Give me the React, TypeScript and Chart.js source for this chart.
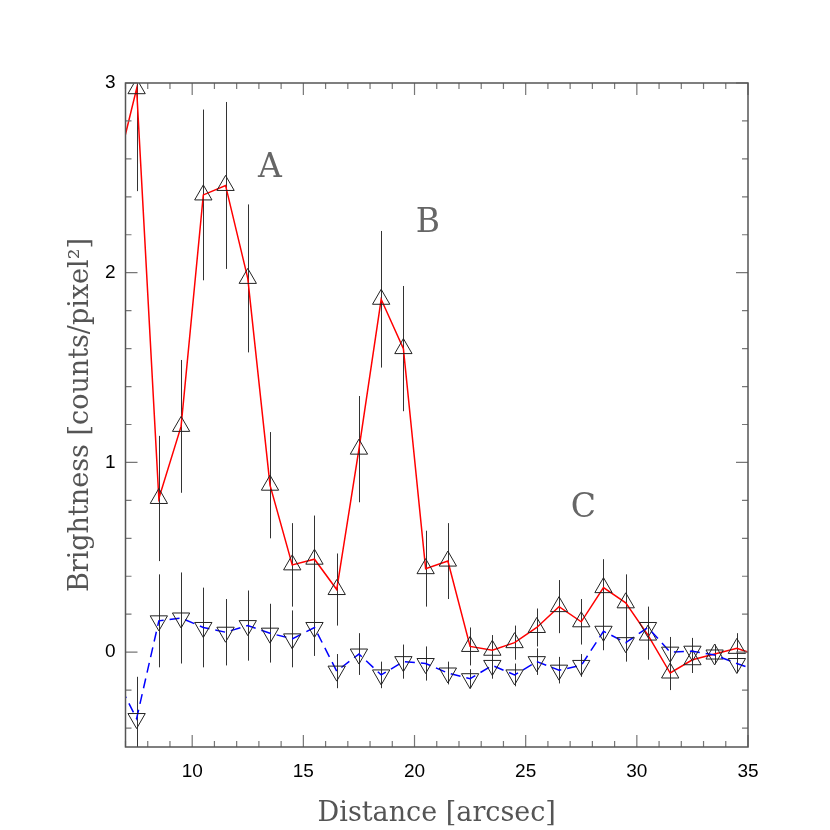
import React, { useEffect, useRef } from "react";
import { Chart, registerables } from "chart.js";

Chart.register(...registerables);

// Distance along the cut [arcsec]
const distance = [
  6.5, 7.5, 8.5, 9.5, 10.5, 11.5, 12.5, 13.5, 14.5, 15.5, 16.5, 17.5, 18.5, 19.5, 20.5,
  21.5, 22.5, 23.5, 24.5, 25.5, 26.5, 27.5, 28.5, 29.5, 30.5, 31.5, 32.5, 33.5, 34.5, 35.5,
];

// Upward triangles, red solid line
const brightnessA = [
  2.49, 2.97, 0.81, 1.19, 2.41, 2.46, 1.97, 0.88, 0.46, 0.49, 0.33, 1.07, 1.86, 1.6, 0.44,
  0.48, 0.03, 0.01, 0.05, 0.13, 0.24, 0.16, 0.34, 0.26, 0.09, -0.11, -0.04, -0.01, 0.02, -0.02,
];
const errorA = [
  0, 0.54, 0.33, 0.35, 0.45, 0.44, 0.39, 0.28, 0.22, 0.23, 0.19, 0.28, 0.36, 0.33, 0.2,
  0.2, 0.1, 0.08, 0.09, 0.1, 0.14, 0.12, 0.15, 0.15, 0.13, 0.09, 0.07, 0.05, 0.08, 0,
];

// Downward triangles, blue dashed line
const brightnessB = [
  -0.12, -0.35, 0.165, 0.18, 0.13, 0.105, 0.14, 0.1, 0.07, 0.13, -0.1, -0.01, -0.12, -0.05, -0.06,
  -0.11, -0.14, -0.07, -0.12, -0.05, -0.095, -0.07, 0.11, 0.05, 0.13, 0.0, 0.005, -0.015, -0.06, -0.1,
];
const errorB = [
  0, 0.22, 0.245, 0.24, 0.21, 0.175, 0.185, 0.155, 0.15, 0.15, 0.09, 0.11, 0.07, 0.09, 0.09,
  0.06, 0.05, 0.07, 0.06, 0.07, 0.07, 0.06, 0.1, 0.1, 0.11, 0.08, 0.07, 0.04, 0.05, 0,
];

const xTickValues = [10, 15, 20, 25, 30, 35];
const yTickValues = [0, 1, 2, 3];

const regionLabels = ["A", "B", "C"];
const regionX = [13.5, 20.6, 27.6];
const regionY = [2.55, 2.26, 0.76];

const X_MIN = 7;
const X_MAX = 35;
const Y_MIN = -0.5;
const Y_MAX = 3;

const errorBarPlugin = {
  id: "errorBars",
  beforeDatasetsDraw(chart: any) {
    const { ctx, chartArea, scales } = chart;
    const x = scales.x;
    const y = scales.y;
    ctx.save();
    ctx.beginPath();
    ctx.rect(chartArea.left, chartArea.top, chartArea.right - chartArea.left, chartArea.bottom - chartArea.top);
    ctx.clip();
    ctx.strokeStyle = "#333333";
    ctx.lineWidth = 1;
    const draw = (vals: number[], errs: number[]) => {
      distance.forEach((d, i) => {
        if (!errs[i]) return;
        const px = Math.round(x.getPixelForValue(d)) + 0.5;
        ctx.beginPath();
        ctx.moveTo(px, y.getPixelForValue(vals[i] - errs[i]));
        ctx.lineTo(px, y.getPixelForValue(vals[i] + errs[i]));
        ctx.stroke();
      });
    };
    draw(brightnessA, errorA);
    draw(brightnessB, errorB);
    ctx.restore();
  },
};

const framePlugin = {
  id: "frame",
  afterDraw(chart: any) {
    const { ctx, chartArea, scales } = chart;
    const x = scales.x;
    const y = scales.y;
    const { left, right, top, bottom } = chartArea;
    ctx.save();
    // region labels
    ctx.fillStyle = "#666666";
    ctx.font = "33px 'DejaVu Serif'";
    ctx.textAlign = "center";
    ctx.textBaseline = "middle";
    regionLabels.forEach((t, i) => {
      ctx.fillText(t, x.getPixelForValue(regionX[i]), y.getPixelForValue(regionY[i]));
    });
    // ticks
    ctx.strokeStyle = "#777777";
    ctx.lineWidth = 1.2;
    for (let v = X_MIN; v <= X_MAX + 1e-6; v += 1) {
      const px = x.getPixelForValue(v);
      const len = Math.abs(v % 5) < 1e-6 ? 12 : 6;
      ctx.beginPath();
      ctx.moveTo(px, bottom);
      ctx.lineTo(px, bottom - len);
      ctx.moveTo(px, top);
      ctx.lineTo(px, top + len);
      ctx.stroke();
    }
    for (let k = -2; k <= 15; k++) {
      const v = k * 0.2;
      const py = y.getPixelForValue(v);
      const len = k % 5 === 0 ? 12 : 6;
      ctx.beginPath();
      ctx.moveTo(left, py);
      ctx.lineTo(left + len, py);
      ctx.moveTo(right, py);
      ctx.lineTo(right - len, py);
      ctx.stroke();
    }
    // frame
    ctx.strokeStyle = "#555555";
    ctx.lineWidth = 1.5;
    ctx.strokeRect(left, top, right - left, bottom - top);
    ctx.restore();
  },
};

export default function App() {
  const canvasRef = useRef<HTMLCanvasElement | null>(null);

  useEffect(() => {
    if (!canvasRef.current) return;
    const inRange = (c: any) => {
      const v = distance[c.dataIndex];
      return v < X_MIN || v > X_MAX ? 0 : 10;
    };
    const chart = new Chart(canvasRef.current, {
      type: "line",
      data: {
        datasets: [
          {
            label: "B",
            data: distance.map((d, i) => ({ x: d, y: brightnessB[i] })),
            borderColor: "#0000ff",
            borderWidth: 1.5,
            borderDash: [10, 6],
            pointStyle: "triangle",
            pointRotation: 180,
            pointRadius: inRange,
            pointBorderColor: "#222222",
            pointBackgroundColor: "rgba(0,0,0,0)",
            pointBorderWidth: 1,
            tension: 0,
            clip: 0,
          },
          {
            label: "A",
            data: distance.map((d, i) => ({ x: d, y: brightnessA[i] })),
            borderColor: "#ff0000",
            borderWidth: 1.5,
            pointStyle: "triangle",
            pointRadius: inRange,
            pointBorderColor: "#222222",
            pointBackgroundColor: "rgba(0,0,0,0)",
            pointBorderWidth: 1,
            tension: 0,
            clip: 0,
          },
        ],
      },
      options: {
        animation: false,
        responsive: false,
        devicePixelRatio: 1,
        layout: { padding: { top: 83, right: 82, left: 0, bottom: 0 } },
        plugins: { legend: { display: false }, tooltip: { enabled: false } },
        scales: {
          x: {
            type: "linear",
            min: X_MIN,
            max: X_MAX,
            grid: { display: false, drawTicks: false },
            border: { display: false },
            afterBuildTicks: (s: any) => {
              s.ticks = xTickValues.map((v) => ({ value: v }));
            },
            afterFit: (s: any) => {
              s.height = 83;
            },
            ticks: {
              color: "#000000",
              font: { family: "'Liberation Sans', Arial, sans-serif", size: 19 },
              padding: 13,
              maxRotation: 0,
            },
            title: {
              display: true,
              text: "Distance [arcsec]",
              color: "#555555",
              font: { family: "'DejaVu Serif', serif", size: 27 },
              padding: { top: 8, bottom: 0 },
            },
          },
          y: {
            type: "linear",
            min: Y_MIN,
            max: Y_MAX,
            grid: { display: false, drawTicks: false },
            border: { display: false },
            afterBuildTicks: (s: any) => {
              s.ticks = yTickValues.map((v) => ({ value: v }));
            },
            afterFit: (s: any) => {
              s.width = 125.5;
            },
            ticks: {
              color: "#000000",
              font: { family: "'Liberation Sans', Arial, sans-serif", size: 19 },
              padding: 10,
            },
            title: {
              display: true,
              text: "Brightness [counts/pixel²]",
              color: "#555555",
              font: { family: "'DejaVu Serif', serif", size: 27 },
              padding: { top: 65, bottom: 0 },
            },
          },
        },
      },
      plugins: [errorBarPlugin, framePlugin],
    } as any);
    return () => chart.destroy();
  }, []);

  return (
    <div style={{ position: "fixed", left: 0, top: 0, width: 830, height: 830, background: "#ffffff" }}>
      <canvas ref={canvasRef} width={830} height={830} style={{ width: 830, height: 830, display: "block" }} />
    </div>
  );
}
